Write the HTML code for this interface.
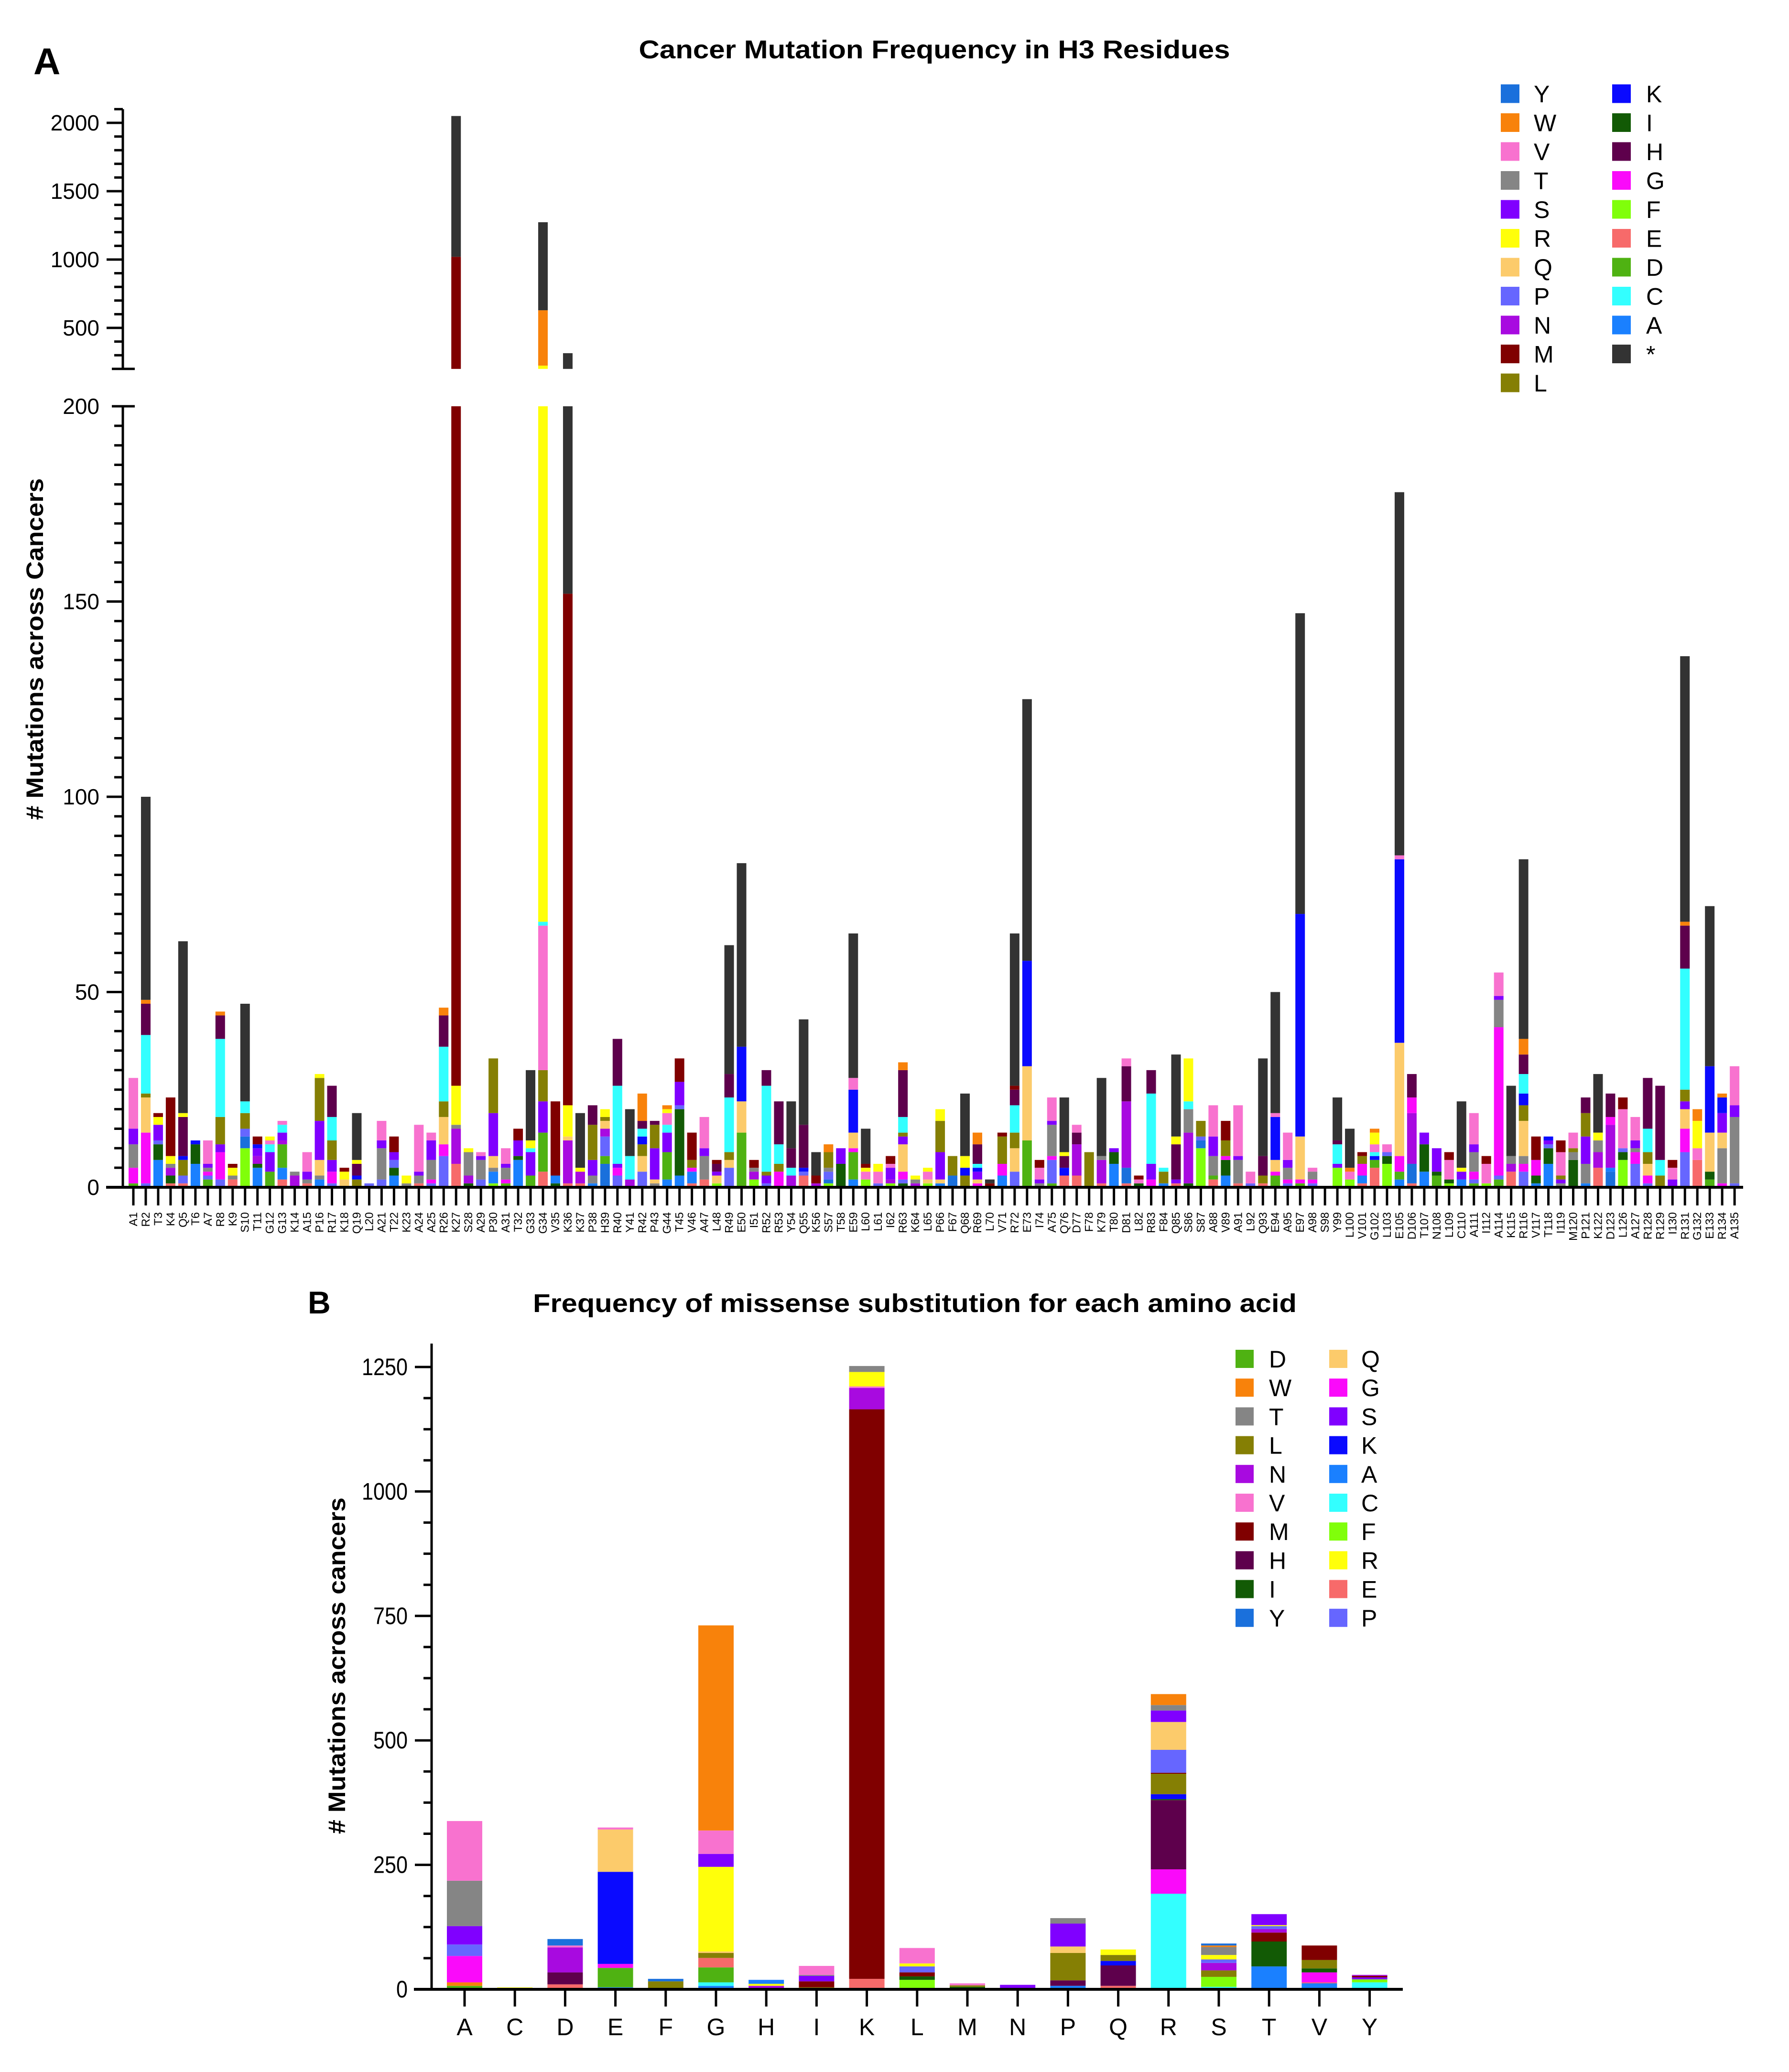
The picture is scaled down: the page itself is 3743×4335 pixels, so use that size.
<!DOCTYPE html>
<html><head><meta charset="utf-8"><style>
html,body{margin:0;padding:0;background:#fff;}
svg{display:block;font-family:"Liberation Sans",Arial,sans-serif;}
</style></head><body>
<svg id="chart" xmlns="http://www.w3.org/2000/svg" width="3743" height="4335" viewBox="0 0 3743 4335">
<rect x="0" y="0" width="3743" height="4335" fill="#fff"/>
<g id="panelA"></g>
<g id="panelB"></g>
</svg>
<script>
const colors = {Y:'#1a70dc',W:'#f8820b',V:'#f872cf',T:'#858585',S:'#8000ff',R:'#ffff0a',Q:'#fccb6b',P:'#6666ff',N:'#a80ae0',M:'#800000',L:'#857f04',K:'#0a0aff',I:'#125a05',H:'#5e004c',G:'#fa0afa',F:'#80ff0a',E:'#f76a6a',D:'#4fb212',C:'#33ffff',A:'#1a80ff','*':'#333333'};

// Panel A data
const residuesA = ["A1","R2","T3","K4","Q5","T6","A7","R8","K9","S10","T11","G12","G13","K14","A15","P16","R17","K18","Q19","L20","A21","T22","K23","A24","A25","R26","K27","S28","A29","P30","A31","T32","G33","G34","V35","K36","K37","P38","H39","R40","Y41","R42","P43","G44","T45","V46","A47","L48","R49","E50","I51","R52","R53","Y54","Q55","K56","S57","T58","E59","L60","L61","I62","R63","K64","L65","P66","F67","Q68","R69","L70","V71","R72","E73","I74","A75","Q76","D77","F78","K79","T80","D81","L82","R83","F84","Q85","S86","S87","A88","V89","A91","L92","Q93","E94","A95","E97","A98","S98","Y99","L100","V101","G102","L103","E105","D106","T107","N108","L109","C110","A111","I112","A114","K115","R116","V117","T118","I119","M120","P121","K122","D123","L126","A127","R128","R129","I130","R131","G132","E133","R134","A135"];
const segmentsA = ["D1 G4 T6 S4 V13","P1 G13 Q9 L1 C15 H8 W1 *52","A7 I4 P1 S4 R2 M1","E1 I2 N2 T1 R2 M15","E1 P2 L4 K1 H10 R1 *44","A6 I5 K1","D2 P1 G1 T1 S1 V6","P2 G7 S2 L7 C20 H6 W1","E2 T1 R2 M1","F10 Y3 P2 L4 C3 *25","A5 I1 N2 S2 K1 M2","D4 S5 C2 V1 R1","E2 A3 D6 N1 S2 C2 V1","N3 T1","E1 T1 S2 V5","A2 T1 Q4 S10 L11 R1","P1 G3 S3 L5 C6 H8","Q2 R2 M1","L2 K1 H3 R1 *12","P1","P2 T8 S2 V5","A3 I2 P2 S2 M4","T1 R2","E1 T2 S1 V12","P1 G1 T5 S5 V2","P8 G3 Q7 L4 C14 H8 W2","E6 N9 T1 R10 M994 *1030","I1 N2 T6 R1","P2 T5 S1 V1","F1 A3 T1 Q3 S11 L14","D1 G1 T3 S1 V4","A7 I1 S4 M3","D3 S6 C1 R2 *18","E4 D10 S8 L8 V37 C1 R156 W405 *644","I1 A2 M19","E1 N11 Q1 R8 M131 *163","E1 N3 R1 *14","A1 T2 S4 L9 H5","Y6 D2 P5 N2 Q2 L1 R2","P3 G2 S1 C20 H12","N2 C6 *12","P4 Q4 L3 K2 C2 H2 W7","T1 Q1 S8 L6 H1","A2 D7 S5 C2 V3 R1 W1","A3 I17 P1 S6 M6","E1 A3 G1 L2 M7","E2 T6 S2 V8","F1 Q2 S1 H2 M1","P5 Q2 L2 C14 H6 *33","D14 Q8 K14 *47","F2 N2 T1 M2","P1 S2 L1 C22 H4","G4 L2 C5 H11","N3 C2 H5 *12","E3 P1 K1 H11 *27","N1 M2 *6","F1 Y1 P2 T1 L4 W2","I6 S4","A2 D7 G1 Q4 K11 V3 *37","F2 V2 R1 M1 *9","P1 V3 R2","F1 N1 S3 V1 M2","I1 P1 G2 Q7 S2 L1 C4 H12 W2","N1 T1 R1","F1 Q1 V2 R1","A1 Q1 S7 L8 R3","Y3 L5","L3 K2 R3 *16","G1 Q1 S2 K1 C1 H5 W3","M1 *1","A3 G3 L7 M1","P4 Q6 L4 C7 H4 M1 *39","D12 Q19 K27 *67","T1 S1 V3 M2","D1 P6 G1 T8 S1 V6","E3 K2 H3 R1 *14","E3 N8 H3 V2","L9","E1 N6 T1 *20","A6 I3 S1","E1 Y4 N17 H9 V2","I1 V1 M1","G2 S4 C18 H6","A1 L3 C1","E1 S1 H9 R2 *21","I1 N13 T6 C2 R11","F10 Y2 P1 L4","E2 D1 T5 S5 V8","A3 I4 G1 L4 M5","E1 T6 S1 V13","P1 V3","E1 L2 H5 *25","D3 G1 Q3 K11 V1 *31","P1 G1 T3 S2 V7","D1 G1 Q11 K57 *77","P1 G1 T2 V1","","F5 S1 C5 H1 *11","F2 V2 W1 *10","E1 A2 G3 L2 M1","E5 D2 K1 C1 V2 R3 W1","F6 I2 P1 V2","A2 D2 G4 Q29 K47 V1 *93","E1 Y5 N13 G4 H6","A4 I7 S3","D3 I1 S6","F1 I1 V5 M2","A2 S2 R1 *17","D1 P1 G2 T5 S2 V8","F1 V5 M2","D2 P1 G38 T7 S1 V6","E4 N2 T2 *18","P4 G2 T2 Q9 L4 K3 C5 H5 W4 *46","A1 I2 G4 M6","A6 I4 P1 S1 K1","T1 S1 L1 V6 M3","I7 T2 L1 V4","A1 T5 S7 L6 H4","E5 N4 T3 R2 *15","Y4 A1 N11 G2 H6","F7 I2 P1 V10 M3","P6 G3 T1 S2 V6","P1 G2 Q3 L3 C6 H13","L3 C4 H19","S2 V3 M2","P9 G6 Q5 S2 L3 C31 H11 W1 *68","E7 V3 R7 W3","D2 I2 Q10 K17 *41","G1 T9 Q4 S5 K4 W1","P1 T17 S3 V10"];
const lowerTicksA = [0,50,100,150,200];
const upperTicksA = [500,1000,1500,2000];
const legendA1 = ["Y","W","V","T","S","R","Q","P","N","M","L"];
const legendA2 = ["K","I","H","G","F","E","D","C","A","*"];

// Panel B data
const categoriesB = ["A","C","D","E","F","G","H","I","K","L","M","N","P","Q","R","S","T","V","Y"];
const segmentsB = ["D7 W7 G53 P23 S37 T91 V120","A3 R1","E10 H24 N50 V4 Y13","A4 D39 G8 K185 Q85 V4","L16 Y5","A7 C7 D30 E19 L10 Q3 R170 S26 V47 W412","I2 N5 R4 A8","L4 M12 S11 T2 V18","E21 M1144 N43 V3 R29 T12","F19 I7 M8 P12 R6 V31","I5 L3 V4","L2 S7","A7 H11 L55 Q13 S46 T11","E7 H41 K9 L12 R11","C192 G49 H139 I2 K10 L41 M2 P46 Q56 S23 T11 W22","C5 F20 L13 N15 P7 R9 T16 W3 Y4","A46 I50 M18 N7 P6 R2 S22","A12 E2 G20 I8 L17 M29","C14 F6 S4 M3 N2"];
const ticksB = [0,250,500,750,1000,1250];
const legendB1 = ["D","W","T","L","N","V","M","H","I","Y"];
const legendB2 = ["Q","G","S","K","A","C","F","R","E","P"];

const NS='http://www.w3.org/2000/svg';
function mk(parent, tag, attrs, text){
  const e=document.createElementNS(NS,tag);
  for(const k in attrs) e.setAttribute(k,attrs[k]);
  if(text!==undefined) e.textContent=text;
  parent.appendChild(e); return e;
}
function parseSegs(s){
  return s.trim()==='' ? [] : s.trim().split(/\s+/).map(t=>({k:t[0], v:parseFloat(t.slice(1))}));
}

// ---------- Panel A ----------
const gA=document.getElementById('panelA');
const yLow = v => 2484 - v*8.17;
const yUp = v => 686 - (v-500)*0.286;
const xA = i => 279 + i*25.97;
const barWA = 20;

let t=mk(gA,'text',{x:70,y:155,'font-size':78,'font-weight':'bold'},'A');
 
t=mk(gA,'text',{x:1955,y:122,'font-size':54,'font-weight':'bold','text-anchor':'middle',textLength:1237,lengthAdjust:'spacingAndGlyphs'},'Cancer Mutation Frequency in H3 Residues');
 
t=mk(gA,'text',{x:0,y:0,'font-size':50,'font-weight':'bold','text-anchor':'middle',transform:'translate(90,1358) rotate(-90)',textLength:715,lengthAdjust:'spacingAndGlyphs'},'# Mutations across Cancers');
 

// bars
residuesA.forEach((r,i)=>{
  const g=mk(gA,'g',{});
  
  
  let cum=0;
  parseSegs(segmentsA[i]).forEach(s=>{
    const a=cum, b=cum+s.v; cum=b;
    const col=colors[s.k];
    if(a<200){
      const y1=yLow(Math.min(b,200)), y0=yLow(a);
      const rc=mk(g,'rect',{x:xA(i)-barWA/2,y:y1,width:barWA,height:Math.max(0,y0-y1),fill:col});
      
      
    }
    if(b>200){
      const y1=yUp(b), y0=yUp(Math.max(a,200));
      const rc=mk(g,'rect',{x:xA(i)-barWA/2,y:y1,width:barWA,height:Math.max(0,y0-y1),fill:col});
      
      
    }
  });
  // x tick + label
  mk(gA,'line',{x1:xA(i),x2:xA(i),y1:2484,y2:2522,stroke:'#000','stroke-width':5});
  const lb=mk(gA,'text',{x:0,y:0,'font-size':24,'text-anchor':'end',transform:`translate(${xA(i)+8},2536) rotate(-90)`},r);
  
  
});

// lower axis
const axL=mk(gA,'g',{});
 
mk(axL,'line',{x1:257,x2:257,y1:yLow(200),y2:2486,stroke:'#000','stroke-width':5});
mk(axL,'line',{x1:234,x2:282,y1:yLow(200),y2:yLow(200),stroke:'#000','stroke-width':5});
for(let v=5; v<200; v+=5){
  const maj=v%50===0;
  mk(axL,'line',{x1:maj?223:239,x2:257,y1:yLow(v),y2:yLow(v),stroke:'#000','stroke-width':5});
}
lowerTicksA.forEach(v=>{
  const tx=mk(axL,'text',{x:208,y:yLow(v)+16,'font-size':46,'text-anchor':'end'},String(v));
   
});
// x-axis line
const xl=mk(gA,'line',{x1:222,x2:3647,y1:2484,y2:2484,stroke:'#000','stroke-width':6});
 

// upper axis
const axU=mk(gA,'g',{});
 
mk(axU,'line',{x1:257,x2:257,y1:yUp(2100),y2:yUp(200),stroke:'#000','stroke-width':5});
mk(axU,'line',{x1:234,x2:282,y1:yUp(200),y2:yUp(200),stroke:'#000','stroke-width':5});
for(let v=300; v<=2100; v+=100){
  const maj=v%500===0;
  mk(axU,'line',{x1:maj?223:239,x2:257,y1:yUp(v),y2:yUp(v),stroke:'#000','stroke-width':5});
}
upperTicksA.forEach(v=>{
  const tx=mk(axU,'text',{x:208,y:yUp(v)+16,'font-size':46,'text-anchor':'end'},String(v));
   
});

// legend A
const lgA=mk(gA,'g',{});
 
legendA1.forEach((k,j)=>{
  const cy=196+j*60.5;
  const e=mk(lgA,'g',{});
   
  mk(e,'rect',{x:3140,y:cy-19.5,width:39,height:39,fill:colors[k]});
  mk(e,'text',{x:3209,y:cy+18,'font-size':50},k);
});
legendA2.forEach((k,j)=>{
  const cy=196+j*60.5;
  const e=mk(lgA,'g',{});
   
  mk(e,'rect',{x:3373,y:cy-19.5,width:39,height:39,fill:colors[k]});
  mk(e,'text',{x:3444,y:cy+18,'font-size':50},k);
});

// ---------- Panel B ----------
const gB=document.getElementById('panelB');
const yB = v => 4162 - v*1.0416;
const xB = i => 972 + i*105.2;
const barWB = 74;

t=mk(gB,'text',{x:644,y:2748,'font-size':66,'font-weight':'bold'},'B');
 
t=mk(gB,'text',{x:1914,y:2745,'font-size':54,'font-weight':'bold','text-anchor':'middle',textLength:1598,lengthAdjust:'spacingAndGlyphs'},'Frequency of missense substitution for each amino acid');
 
t=mk(gB,'text',{x:0,y:0,'font-size':50,'font-weight':'bold','text-anchor':'middle',transform:'translate(722,3485) rotate(-90)',textLength:704,lengthAdjust:'spacingAndGlyphs'},'# Mutations across cancers');
 

categoriesB.forEach((c,i)=>{
  const g=mk(gB,'g',{});
  
  
  let cum=0;
  parseSegs(segmentsB[i]).forEach(s=>{
    const y1=yB(cum+s.v), y0=yB(cum); cum+=s.v;
    const rc=mk(g,'rect',{x:xB(i)-barWB/2,y:y1,width:barWB,height:y0-y1,fill:colors[s.k]});
    
    
  });
  mk(gB,'line',{x1:xB(i),x2:xB(i),y1:4162,y2:4198,stroke:'#000','stroke-width':5});
  const lb=mk(gB,'text',{x:xB(i),y:4258,'font-size':50,'text-anchor':'middle'},c);
  
  
});

const axB=mk(gB,'g',{});
 
mk(axB,'line',{x1:903,x2:903,y1:2811,y2:4164,stroke:'#000','stroke-width':5});
for(let v=62.5; v<=1300; v+=62.5){
  const maj=Math.abs(v%250)<0.01;
  mk(axB,'line',{x1:maj?868:886,x2:903,y1:yB(v),y2:yB(v),stroke:'#000','stroke-width':5});
}
ticksB.forEach(v=>{
  const tx=mk(axB,'text',{x:853,y:yB(v)+17,'font-size':50,'text-anchor':'end',textLength:String(v).length*24,lengthAdjust:'spacingAndGlyphs'},String(v));
   
});
const xlB=mk(gB,'line',{x1:866,x2:2935,y1:4162,y2:4162,stroke:'#000','stroke-width':6});
 

const lgB=mk(gB,'g',{});
 
legendB1.forEach((k,j)=>{
  const cy=2843+j*60.2;
  const e=mk(lgB,'g',{});
   
  mk(e,'rect',{x:2585,y:cy-19,width:38,height:38,fill:colors[k]});
  mk(e,'text',{x:2655,y:cy+18,'font-size':50},k);
});
legendB2.forEach((k,j)=>{
  const cy=2843+j*60.2;
  const e=mk(lgB,'g',{});
   
  mk(e,'rect',{x:2781,y:cy-19,width:38,height:38,fill:colors[k]});
  mk(e,'text',{x:2848,y:cy+18,'font-size':50},k);
});
</script>
</body></html>
